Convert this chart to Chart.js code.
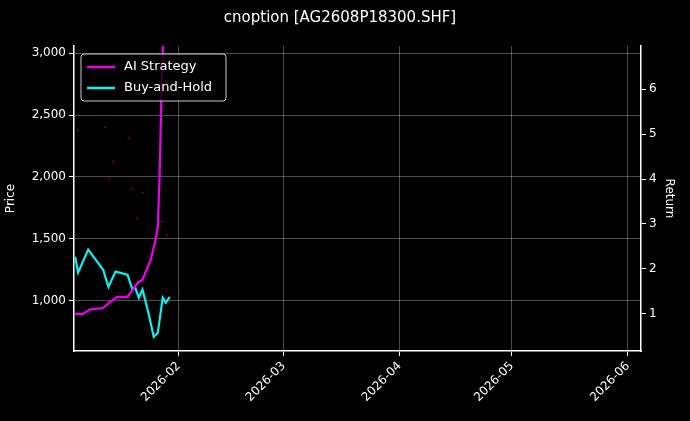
<![CDATA[<!DOCTYPE html><html><head><script src="https://cdn.jsdelivr.net/npm/chart.js@4"></script>
<style>body{margin:0;background:#000}#w{width:690px;height:421px}</style></head><body><div id="w"><canvas id="c"></canvas></div><script>
// day-of-year 2026 (Jan 1 = 0)
const aiDays=[3.3,5.4,7.3,10.8,12.7,14.6,17.3,20.0,21.3,23.5,24.8,25.4,25.9,26.5,26.9];
const aiVals=[1.0,1.0,1.1,1.13,1.27,1.38,1.38,1.69,1.76,2.2,2.65,2.94,4.15,6.4,7.2];
const bhDays=[3.3,4.1,6.8,10.8,12.2,14.1,17.3,18.6,19.4,20.3,21.3,22.9,24.3,25.4,26.7,27.5,28.6];
const bhVals=[2.27,1.92,2.43,1.98,1.6,1.94,1.87,1.54,1.58,1.36,1.54,1.02,0.49,0.58,1.36,1.25,1.38];
const pxDays=[4.1,11.4,12.4,13.5,17.6,18.6,19.9,21.3,26.7,27.8];
const pxVals=[2376,2401,1988,2125,2312,1907,1664,1874,1640,1534];
const monthTicks=[31,59,90,120,151];
const monthLabels=['2026-02','2026-03','2026-04','2026-05','2026-06'];
const F='DejaVu Sans';
const legendPlugin={id:'lg',afterDraw(ch){const c=ch.ctx,a=ch.chartArea;c.save();
const x=a.left+7,y=a.top+8,w=145,h=47;c.fillStyle='rgba(0,0,0,0.8)';c.strokeStyle='#ccc';c.lineWidth=1;
c.beginPath();c.roundRect(x,y,w,h,3);c.fill();c.stroke();
const items=[['AI Strategy','#ee00ee'],['Buy-and-Hold','#11eeee']];c.font='13px '+F;c.textBaseline='middle';
items.forEach((it,i)=>{const yy=y+13+i*21;c.strokeStyle=it[1];c.lineWidth=2.5;c.beginPath();c.moveTo(x+6,yy);c.lineTo(x+34,yy);c.stroke();c.fillStyle='#fff';c.fillText(it[0],x+43,yy);});
c.restore();}};
new Chart(document.getElementById('c'),{type:'scatter',data:{datasets:[
{label:'px',data:pxDays.map((d,i)=>({x:d,y:pxVals[i]})),yAxisID:'y',backgroundColor:'rgba(255,0,0,0.6)',pointRadius:1,pointBorderWidth:0},
{label:'AI Strategy',type:'line',data:aiDays.map((d,i)=>({x:d,y:aiVals[i]})),yAxisID:'y1',borderColor:'#ee00ee',borderWidth:2.2,pointRadius:0,tension:0},
{label:'Buy-and-Hold',type:'line',data:bhDays.map((d,i)=>({x:d,y:bhVals[i]})),yAxisID:'y1',borderColor:'#11eeee',borderWidth:2.2,pointRadius:0,tension:0}
]},options:{responsive:true,maintainAspectRatio:false,animation:false,
layout:{padding:{top:5,right:10,bottom:0,left:0}},
plugins:{legend:{display:false},tooltip:{enabled:false},title:{display:true,text:'cnoption [AG2608P18300.SHF]',color:'#fff',font:{family:F,size:15,weight:'normal'},padding:{top:4,bottom:19}}},
scales:{
x:{type:'linear',min:3,max:154.5,afterBuildTicks(s){s.ticks=monthTicks.map(v=>({value:v}));},
ticks:{color:'#fff',font:{family:F,size:12},maxRotation:45,minRotation:45,callback:(v)=>monthLabels[monthTicks.indexOf(v)]},
grid:{color:'rgba(255,255,255,0.3)',tickColor:'#fff',tickLength:5},border:{color:'#fff',width:1.5},afterFit(s){s.height=70;}},
y:{position:'left',min:595,max:3057,afterBuildTicks(s){s.ticks=[1000,1500,2000,2500,3000].map(v=>({value:v}));},
ticks:{color:'#fff',font:{family:F,size:12}},title:{display:true,text:'Price',color:'#fff',font:{family:F,size:12}},
grid:{color:'rgba(255,255,255,0.3)',tickColor:'#fff',tickLength:5},border:{color:'#fff',width:1.5},afterFit(s){s.width=74;}},
y1:{position:'right',min:0.174,max:6.96,afterBuildTicks(s){s.ticks=[1,2,3,4,5,6].map(v=>({value:v}));},
ticks:{color:'#fff',font:{family:F,size:12}},title:{display:true,text:'Return',color:'#fff',font:{family:F,size:12}},
grid:{drawOnChartArea:false,tickColor:'#fff',tickLength:5},border:{color:'#fff',width:1.5},afterFit(s){s.width=39;}}
}},plugins:[legendPlugin]});
</script></body></html>]]>
